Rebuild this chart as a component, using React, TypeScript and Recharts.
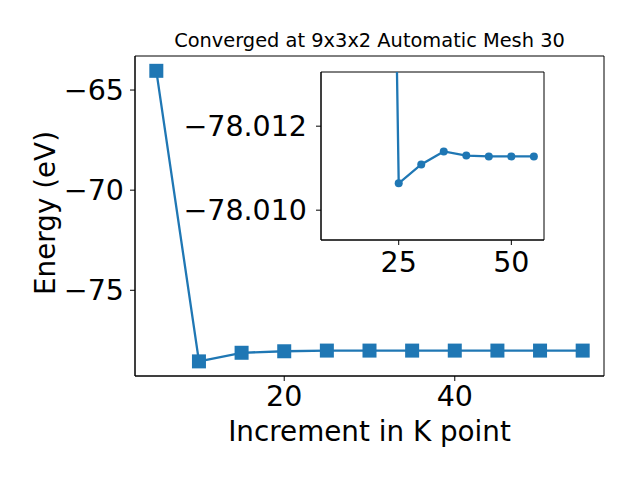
import React from "react";
import {
  LineChart,
  Line,
  XAxis,
  YAxis,
  ReferenceArea,
} from "recharts";

// k-point increment vs. total energy (eV)
const kpoints = [5, 10, 15, 20, 25, 30, 35, 40, 45, 50, 55];
const energy = [
  -64.04, -78.55, -78.12, -78.045, -78.01064, -78.01109, -78.0114, -78.0113,
  -78.01128, -78.01128, -78.01128,
];

const mainXTicks = [20, 40];
const mainYTicks = [-75, -70, -65];
const insetXTicks = [25, 50];
const insetYTicks = [-78.012, -78.01];

const mainXDomain: [number, number] = [2.5, 57.5];
const mainYDomain: [number, number] = [-79.28, -63.3];
const insetXDomain: [number, number] = [7.75, 57.25];
const insetYDomain: [number, number] = [-78.01329, -78.00929];

const BLUE = "#1f77b4";
const FONT = "DejaVu Sans";
const TICK_FONT = 28.5;

const rows = kpoints.map((k, i) => ({ k, e: energy[i] }));
const insetRows = rows.slice(1);

const minus = (v: number, digits = 0) =>
  (v < 0 ? "\u2212" : "") + Math.abs(v).toFixed(digits);

function Square(props: any) {
  const { cx, cy, index } = props;
  if (cx == null || cy == null) return null;
  return (
    <rect key={`sq-${index}`} x={cx - 7} y={cy - 7} width={14} height={14} fill={BLUE} />
  );
}

export default function App() {
  const axisStroke = { stroke: "#000", strokeWidth: 1 };
  const tickStyle = { fill: "#000", fontSize: TICK_FONT, fontFamily: FONT };
  return (
    <div
      style={{
        position: "absolute",
        left: 0,
        top: 0,
        width: 640,
        height: 480,
        background: "#fff",
        fontFamily: FONT,
      }}
    >
      <LineChart
        width={640}
        height={480}
        data={rows}
        margin={{ top: 56, right: 36, bottom: 0, left: 0 }}
        style={{ position: "absolute", left: 0, top: 0 }}
      >
        <XAxis
          dataKey="k"
          type="number"
          domain={mainXDomain}
          ticks={mainXTicks}
          allowDataOverflow
          height={104}
          tickSize={5}
          tickMargin={5}
          axisLine={axisStroke}
          tickLine={axisStroke}
          tick={tickStyle}
        />
        <YAxis
          type="number"
          domain={mainYDomain}
          ticks={mainYTicks}
          allowDataOverflow
          width={135}
          tickSize={5}
          tickMargin={6}
          axisLine={axisStroke}
          tickLine={axisStroke}
          tickFormatter={(v: number) => minus(v)}
          tick={tickStyle}
        />
        <ReferenceArea
          x1={mainXDomain[0]}
          x2={mainXDomain[1]}
          y1={mainYDomain[0]}
          y2={mainYDomain[1]}
          fill="none"
          stroke="#000"
          strokeWidth={1}
          fillOpacity={0}
        />
        <Line
          dataKey="e"
          type="linear"
          stroke={BLUE}
          strokeWidth={2.3}
          dot={<Square />}
          activeDot={false}
          isAnimationActive={false}
        />
      </LineChart>

      <LineChart
        width={400}
        height={220}
        data={insetRows}
        margin={{ top: 12, right: 26, bottom: 0, left: 0 }}
        style={{ position: "absolute", left: 170, top: 60 }}
      >
        <XAxis
          dataKey="k"
          type="number"
          domain={insetXDomain}
          ticks={insetXTicks}
          allowDataOverflow
          height={40}
          tickSize={5}
          tickMargin={7}
          axisLine={axisStroke}
          tickLine={axisStroke}
          tick={tickStyle}
        />
        <YAxis
          type="number"
          domain={insetYDomain}
          ticks={insetYTicks}
          reversed
          allowDataOverflow
          width={151}
          tickSize={5}
          tickMargin={9}
          axisLine={axisStroke}
          tickLine={axisStroke}
          tickFormatter={(v: number) => minus(v, 3)}
          tick={tickStyle}
        />
        <ReferenceArea
          x1={insetXDomain[0]}
          x2={insetXDomain[1]}
          y1={insetYDomain[0]}
          y2={insetYDomain[1]}
          fill="none"
          stroke="#000"
          strokeWidth={1}
          fillOpacity={0}
        />
        <Line
          dataKey="e"
          type="linear"
          stroke={BLUE}
          strokeWidth={2.3}
          dot={{ r: 4, fill: BLUE, stroke: BLUE, strokeWidth: 0 }}
          activeDot={false}
          isAnimationActive={false}
        />
      </LineChart>

      <svg
        width={640}
        height={480}
        style={{ position: "absolute", left: 0, top: 0, pointerEvents: "none" }}
      >
        <text
          x={369.5}
          y={47.3}
          textAnchor="middle"
          fontSize={19.4}
          fontFamily={FONT}
          fill="#000"
        >
          Converged at 9x3x2 Automatic Mesh 30
        </text>
        <text
          x={369.5}
          y={441}
          textAnchor="middle"
          fontSize={27.8}
          fontFamily={FONT}
          fill="#000"
        >
          Increment in K point
        </text>
        <text
          x={55}
          y={213}
          textAnchor="middle"
          fontSize={27.8}
          fontFamily={FONT}
          fill="#000"
          transform="rotate(-90 55 213)"
        >
          Energy (eV)
        </text>
      </svg>
    </div>
  );
}
